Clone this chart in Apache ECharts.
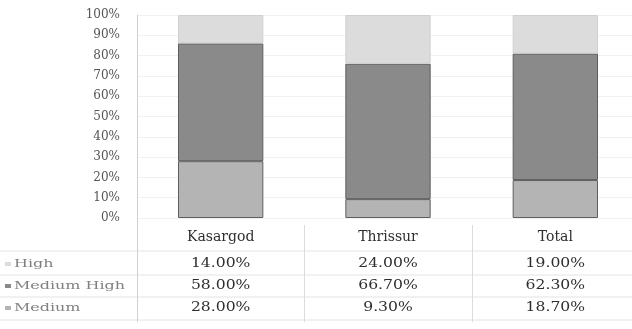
<!DOCTYPE html>
<html>
<head>
<meta charset="utf-8">
<script src="https://cdn.jsdelivr.net/npm/echarts@6/dist/echarts.min.js"></script>
<style>
  html, body { margin: 0; padding: 0; background: #fff; }
  #chart { width: 632px; height: 329px; }
</style>
</head>
<body>
<div id="chart"></div>
<script>
// Stacked percentage bars with an attached data table
const categories = ['Kasargod', 'Thrissur', 'Total'];
const seriesNames = ['High', 'Medium High', 'Medium'];
const high = [14.0, 24.0, 19.0];
const mediumHigh = [58.0, 66.7, 62.3];
const medium = [28.0, 9.3, 18.7];
const yTicks = [0, 10, 20, 30, 40, 50, 60, 70, 80, 90, 100];

const colors = { 'High': '#dcdcdc', 'Medium High': '#8a8a8a', 'Medium': '#b4b4b4' };
const valuesByName = { 'High': high, 'Medium High': mediumHigh, 'Medium': medium };
const FONT = '"DejaVu Serif", "Liberation Serif", serif';

const chart = echarts.init(document.getElementById('chart'), null, { renderer: 'canvas' });

// stacking order bottom -> top: Medium, Medium High, High
const stackOrder = ['Medium', 'Medium High', 'High'];

chart.setOption({
  animation: false,
  grid: { left: 137, width: 502, top: 15, bottom: 111, outerBoundsMode: 'none', containLabel: false },
  xAxis: {
    type: 'category',
    data: categories,
    axisLine: { show: false },
    axisTick: { show: false },
    axisLabel: { color: '#2e2e2e', fontFamily: FONT, fontSize: 14, margin: 12 }
  },
  yAxis: {
    type: 'value',
    min: yTicks[0],
    max: yTicks[yTicks.length - 1],
    interval: 10,
    axisLine: { show: true, lineStyle: { color: '#cfcfcf' } },
    axisTick: { show: false },
    axisLabel: { color: '#555', fontFamily: FONT, fontSize: 12, margin: 17, formatter: v => v + '%' },
    splitLine: { show: true, lineStyle: { color: '#f1f1f1' } }
  },
  series: stackOrder.map(name => ({
    name: name,
    type: 'bar',
    stack: 'total',
    barWidth: '51%',
    data: valuesByName[name],
    itemStyle: {
      color: colors[name],
      borderColor: name === 'High' ? '#d0d0d0' : '#5e5e5e',
      borderWidth: 1
    }
  }))
});

// Data table below the plot, positioned from the category axis
function drawTable() {
  const elements = [];
  const rowY = [264, 286, 308];
  const lineColor = '#e3e3e3';
  // horizontal rules
  [251, 275, 297, 320].forEach(y => {
    elements.push({ type: 'line', shape: { x1: 0, y1: y, x2: 632, y2: y }, style: { stroke: lineColor, lineWidth: 1 } });
  });
  // vertical rules at category boundaries
  const centers = categories.map((c, i) => chart.convertToPixel({ xAxisIndex: 0 }, i));
  const band = centers.length > 1 ? centers[1] - centers[0] : 160;
  centers.forEach((cx, i) => {
    const x = Math.round(cx - band / 2) + 0.5;
    elements.push({ type: 'line', shape: { x1: x, y1: i === 0 ? 218 : 225, x2: x, y2: 322 }, style: { stroke: i === 0 ? '#d0d0d0' : '#dcdcdc', lineWidth: 1 } });
  });
  // row headers with legend keys
  seriesNames.forEach((name, r) => {
    elements.push({ type: 'rect', shape: { x: 5, y: rowY[r] - 2, width: 6, height: 4 }, style: { fill: colors[name] } });
    elements.push({
      type: 'text', x: 14, y: rowY[r], scaleX: 1.45,
      style: { text: name, fill: '#808080', font: '11px ' + FONT, textVerticalAlign: 'middle', textAlign: 'left' }
    });
    valuesByName[name].forEach((v, i) => {
      elements.push({
        type: 'text', x: centers[i], y: rowY[r], scaleX: 1.3,
        style: { text: v.toFixed(2) + '%', fill: '#2e2e2e', font: '12px ' + FONT, textAlign: 'center', textVerticalAlign: 'middle' }
      });
    });
  });
  chart.setOption({ graphic: { elements: elements } });
}
drawTable();
</script>
</body>
</html>
